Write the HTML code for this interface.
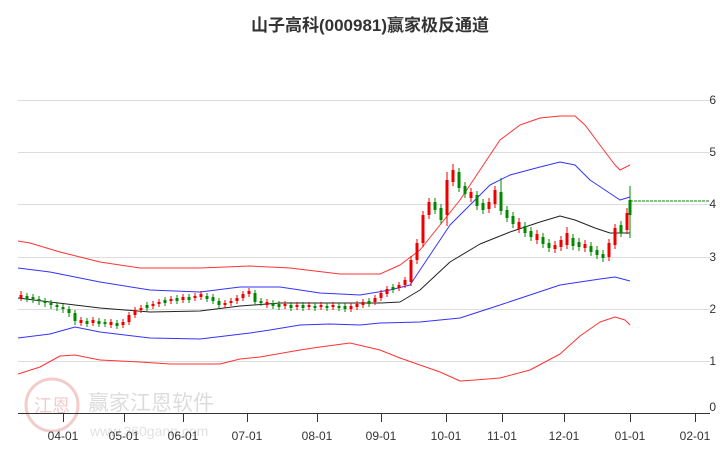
<!DOCTYPE html>
<html><head><meta charset="utf-8"><style>
html,body{margin:0;padding:0;background:#fff;width:726px;height:450px;overflow:hidden}
svg{display:block}
</style></head><body>
<svg width="726" height="450" xmlns="http://www.w3.org/2000/svg" font-family="Liberation Sans, Noto Sans CJK SC, sans-serif">
<text x="370" y="31" text-anchor="middle" font-size="17" font-weight="bold" fill="#333" font-family="Liberation Sans, Noto Sans CJK SC, sans-serif">山子高科(000981)赢家极反通道</text>
<g stroke="#ddd" stroke-width="1">
<line x1="18" y1="100.5" x2="710" y2="100.5"/><line x1="18" y1="152.5" x2="710" y2="152.5"/>
<line x1="18" y1="204.5" x2="710" y2="204.5"/><line x1="18" y1="257.5" x2="710" y2="257.5"/>
<line x1="18" y1="309.5" x2="710" y2="309.5"/><line x1="18" y1="361.5" x2="710" y2="361.5"/>
</g>
<g font-size="12" fill="#333" text-anchor="end">
<text x="716" y="104">6</text><text x="716" y="156">5</text><text x="716" y="208">4</text><text x="716" y="261">3</text><text x="716" y="313">2</text><text x="716" y="365">1</text><text x="716" y="411">0</text>
</g>
<g opacity="0.25">
<circle cx="52" cy="405" r="26" fill="none" stroke="#c33" stroke-width="3"/>
<text x="52" y="412" text-anchor="middle" font-size="18" fill="#c33">江恩</text>
<text x="88" y="410" font-size="21" fill="#777">赢家江恩软件</text>
<text x="90" y="436" font-size="14" fill="#888">www.360gann.com</text>
</g>
<line x1="18" y1="413.5" x2="710" y2="413.5" stroke="#333"/>
<g stroke="#333"><line x1="63.5" y1="413" x2="63.5" y2="422"/><line x1="124.5" y1="413" x2="124.5" y2="422"/><line x1="183.5" y1="413" x2="183.5" y2="422"/><line x1="247.5" y1="413" x2="247.5" y2="422"/><line x1="317.5" y1="413" x2="317.5" y2="422"/><line x1="381.5" y1="413" x2="381.5" y2="422"/><line x1="446.5" y1="413" x2="446.5" y2="422"/><line x1="502.5" y1="413" x2="502.5" y2="422"/><line x1="564.5" y1="413" x2="564.5" y2="422"/><line x1="630.5" y1="413" x2="630.5" y2="422"/><line x1="695.5" y1="413" x2="695.5" y2="422"/></g>
<g font-size="12" fill="#333" text-anchor="middle">
<text x="63" y="440">04-01</text><text x="124" y="440">05-01</text><text x="183" y="440">06-01</text><text x="247" y="440">07-01</text><text x="317" y="440">08-01</text><text x="381" y="440">09-01</text><text x="446" y="440">10-01</text><text x="502" y="440">11-01</text><text x="564" y="440">12-01</text><text x="630" y="440">01-01</text><text x="695" y="440">02-01</text>
</g>
<g fill="none" stroke-width="1" stroke-linejoin="round">
<polyline stroke="#f33" points="18,241 30,243 60,252 100,262 140,268 200,268 250,266 290,268 340,274 380,274 400,265 420,250 440,225 460,200 480,170 500,140 520,125 540,118 560,116 575,116 585,125 600,145 615,165 620,170 630,165"/>
<polyline stroke="#33f" points="18,268 50,272 100,282 150,290 200,292 240,287 280,287 320,293 360,295 390,290 410,285 430,255 450,225 470,205 490,185 510,175 540,167 560,162 575,165 590,180 605,190 620,200 630,197"/>
<polyline stroke="#222" points="18,298 50,302 100,308 150,312 200,311 240,306 280,303 330,303 380,303 400,302 420,290 450,262 480,244 510,232 540,222 560,216 575,220 595,228 610,233 630,233"/>
<polyline stroke="#33f" points="18,338 50,334 75,327 100,332 150,338 200,339 225,336 250,333 270,330 300,325 330,324 360,325 380,323 420,322 460,318 500,305 530,295 560,285 580,282 600,279 615,277 630,281"/>
<polyline stroke="#f33" points="18,374 40,367 60,356 75,355 100,360 140,362 170,364 220,364 240,359 260,357 300,350 320,347 350,343 380,350 400,358 440,372 460,381 475,380 500,378 530,370 560,354 580,336 600,322 615,317 625,320 630,325"/>
<line x1="630" y1="201" x2="710" y2="201" stroke="#080" stroke-dasharray="3,1"/>
</g>
<!-- red candles -->
<path fill="none" stroke="#e00" stroke-width="1" d="M21 291V301M81 317V326M93 317V326M111 319V328M123 319V328M129 312V325M135 307V318M141 305V313M153 301V309M159 299V307M171 296V304M183 294V303M195 293V301M201 291V300M225 300V308M231 298V306M237 295V304M243 291V301M249 288V297M267 299V308M285 301V309M297 302V310M309 302V310M321 302V310M333 302V310M351 303V312M357 301V310M363 299V308M375 295V305M381 290V301M387 286V297M399 282V291M405 277V288M411 256V286M417 239V264M423 211V247M429 198V219M447 172V226M453 164V186M471 188V202M489 198V213M495 186V208M519 218V233M537 230V244M555 241V253M561 236V251M567 227V249M585 240V252M609 239V261M615 224V249M627 208V234"/>
<path fill="none" stroke="#e00" stroke-width="3" d="M21 295V298M81 320V323M93 320V323M111 322V325M123 322V325M129 315V322M135 310V315M141 308V310M153 304V306M159 302V304M171 299V301M183 297V300M195 296V298M201 294V297M225 303V305M231 301V303M237 298V301M243 294V298M249 291V294M267 302V305M285 304V306M297 305V307M309 305V307M321 305V307M333 305V307M351 306V309M357 304V307M363 302V305M375 298V302M381 293V298M387 289V294M399 285V288M405 280V285M411 260V282M417 243V260M423 215V243M429 202V215M447 180V215M453 170V182M471 192V198M489 202V209M495 190V204M519 222V229M537 234V240M555 245V249M561 240V247M567 233V245M585 244V248M609 243V257M615 228V245M627 213V230"/>
<!-- green candles -->
<path fill="none" stroke="#080" stroke-width="1" d="M27 293V302M33 294V303M39 296V305M45 298V307M51 300V309M57 302V311M63 304V313M69 306V317M75 310V325M87 318V327M99 318V327M105 319V327M117 320V329M147 302V311M165 297V306M177 295V304M189 294V303M207 293V302M213 294V304M219 298V308M255 290V305M261 298V306M273 300V309M279 301V310M291 302V311M303 302V311M315 303V311M327 303V311M339 303V311M345 303V312M369 298V307M393 284V293M435 198V214M441 204V224M459 168V192M465 182V198M477 191V210M483 199V214M501 178V215M507 206V222M513 212V228M525 222V237M531 227V241M543 233V248M549 239V252M573 234V250M579 238V251M591 242V256M597 246V259M603 250V262M621 221V237M630 186V238"/>
<path fill="none" stroke="#080" stroke-width="3" d="M27 296V299M33 297V299M39 299V301M45 301V303M51 303V305M57 305V307M63 307V309M69 309V313M75 313V321M87 321V324M99 321V324M105 322V324M117 323V326M147 305V308M165 300V303M177 298V301M189 297V300M207 296V299M213 297V301M219 301V305M255 293V302M261 301V303M273 303V306M279 304V307M291 305V308M303 305V308M315 306V308M327 306V308M339 306V308M345 306V309M369 301V304M393 287V290M435 202V210M441 208V220M459 172V188M465 186V194M477 195V206M483 203V210M501 192V211M507 210V218M513 216V224M525 226V233M531 231V237M543 237V244M549 243V248M573 238V246M579 242V247M591 246V252M597 250V255M603 254V258M621 225V233M630 200V215"/>
</svg>
</body></html>
